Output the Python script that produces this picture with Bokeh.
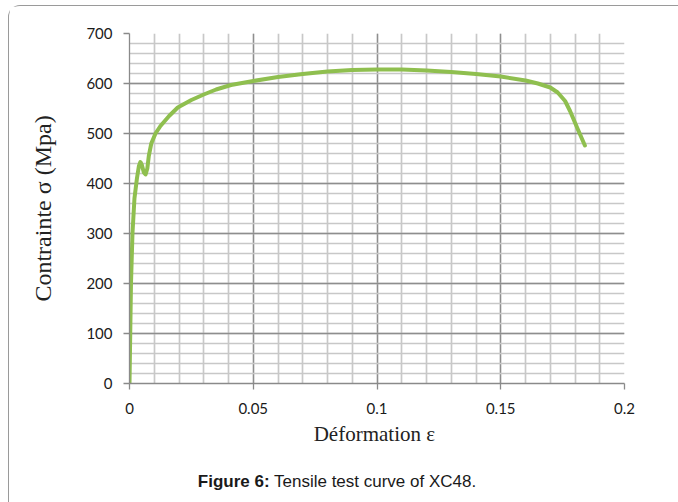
from bokeh.plotting import figure
from bokeh.models import Range1d, FixedTicker, Div
from bokeh.layouts import column
from bokeh.embed import file_html
from bokeh.resources import INLINE
import numpy as np

# Data
strain = [0.0, 0.0003, 0.0006, 0.0012, 0.002, 0.003, 0.0038, 0.0044, 0.005, 0.0058, 0.0065,
          0.0072, 0.0078, 0.0088, 0.0105, 0.0125, 0.016, 0.0195, 0.025, 0.030, 0.035, 0.041,
          0.050, 0.060, 0.070, 0.080, 0.090, 0.100, 0.110, 0.120, 0.130, 0.140, 0.150,
          0.160, 0.165, 0.170, 0.173, 0.176, 0.178, 0.181, 0.184]
stress = [0, 100, 200, 300, 370, 410, 435, 443, 437, 422, 418,
          430, 455, 480, 500, 515, 535, 552, 567, 578, 588, 597,
          605, 613, 619, 624, 627, 628, 628, 626, 623, 619, 614,
          606, 600, 592, 582, 565, 545, 510, 476]

x_ticks = [0, 0.05, 0.1, 0.15, 0.2]
x_tick_labels = ["0", "0.05", "0.1", "0.15", "0.2"]
y_ticks = [0, 100, 200, 300, 400, 500, 600, 700]
y_tick_labels = ["0", "100", "200", "300", "400", "500", "600", "700"]

x_label = "Déformation  ε"
y_label = "Contrainte σ (Mpa)"
caption_bold = "Figure 6:"
caption_text = "Tensile test curve of XC48."

p = figure(width=668, height=452, output_backend="svg", toolbar_location=None,
           x_range=Range1d(0, 0.2), y_range=Range1d(0, 700),
           min_border_left=120, min_border_right=53, min_border_top=27, min_border_bottom=75)
p.outline_line_color = None
p.background_fill_color = "white"
p.border_fill_color = "white"

xt = FixedTicker(ticks=x_ticks, minor_ticks=[round(v, 3) for v in np.arange(0, 0.2001, 0.01)])
yt = FixedTicker(ticks=y_ticks, minor_ticks=list(range(0, 701, 20)))
p.xaxis.ticker = xt
p.yaxis.ticker = yt
p.xaxis.major_label_overrides = {t: l for t, l in zip(x_ticks, x_tick_labels)}
p.yaxis.major_label_overrides = {t: l for t, l in zip(y_ticks, y_tick_labels)}

for g in (p.xgrid, p.ygrid):
    g.grid_line_color = "#8e8e8e"
    g.grid_line_width = 1.3
    g.minor_grid_line_color = "#c8c8c8"
    g.minor_grid_line_width = 1.7

for ax in (p.xaxis, p.yaxis):
    ax.axis_line_color = "#8a8a8a"
    ax.axis_line_width = 1.3
    ax.major_tick_line_color = "#8a8a8a"
    ax.major_tick_line_width = 1.3
    ax.major_tick_in = 0
    ax.major_tick_out = 6
    ax.minor_tick_line_color = None
    ax.major_label_text_font = "Lato"
    ax.major_label_text_font_size = "15px"
    ax.major_label_text_color = "#1a1a1a"
    ax.axis_label_text_font = "Liberation Serif"
    ax.axis_label_text_font_style = "normal"
    ax.axis_label_text_color = "#222222"

p.xaxis.axis_label_text_font_size = "21px"
p.yaxis.axis_label_text_font_size = "24px"
p.xaxis.axis_label = x_label
p.yaxis.axis_label = y_label
p.xaxis.major_label_standoff = 13
p.yaxis.major_label_standoff = 11
p.xaxis.axis_label_standoff = 5
p.yaxis.axis_label_standoff = 27

p.line(strain, stress, line_color="#8fbf4f", line_width=4, line_cap="round", line_join="round")

cap = Div(text=f"<b>{caption_bold}</b> {caption_text}", width=668, height=40,
          styles={"text-align": "center", "font-family": "'Liberation Sans', Arial, sans-serif",
                  "font-size": "17px", "line-height": "20px", "padding-top": "9px",
                  "padding-right": "22px", "color": "#1a1a1a", "box-sizing": "border-box"})

layout = column(p, cap, spacing=0, margin=(5, 0, 0, 8),
                styles={"border-left": "1px solid #9a9a9a", "border-top": "1px solid #9a9a9a",
                        "border-top-left-radius": "12px"})

open("out.html", "w").write(file_html(layout, INLINE))
